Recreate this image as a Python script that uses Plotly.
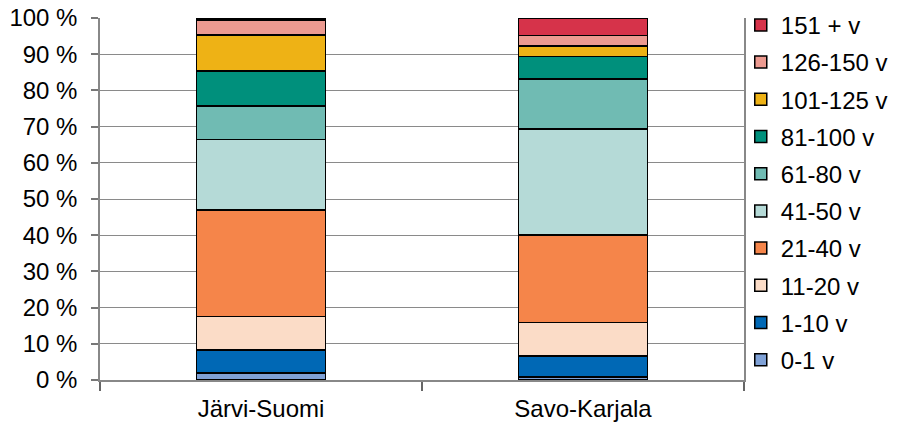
import plotly.graph_objects as go

categories = ["Järvi-Suomi", "Savo-Karjala"]
age_classes = ["0-1 v", "1-10 v", "11-20 v", "21-40 v", "41-50 v",
               "61-80 v", "81-100 v", "101-125 v", "126-150 v", "151 + v"]
jarvi_suomi = [2.0, 6.3, 9.3, 29.3, 19.6, 9.2, 9.7, 9.9, 4.2, 0.5]
savo_karjala = [0.8, 5.9, 9.2, 24.1, 29.4, 13.7, 6.2, 2.9, 2.9, 4.9]
colors = ["#7FA1D6", "#0068B5", "#FBDCC7", "#F5854A", "#B5DAD7",
          "#70BBB3", "#00907C", "#EEB215", "#EC9A90", "#D6334A"]
y_ticks = list(range(0, 101, 10))
y_tick_labels = [f"{v} %" for v in y_ticks]

FONT = "Liberation Sans, Arial, sans-serif"

fig = go.Figure()
n = len(age_classes)
for i, name in enumerate(age_classes):
    fig.add_trace(go.Bar(
        x=categories,
        y=[jarvi_suomi[i], savo_karjala[i]],
        name=name,
        legendgroup=name,
        legendrank=n - i,
        marker=dict(color=colors[i], line=dict(color="#000000", width=1.5)),
        width=0.4,
    ))

fig.update_layout(
    barmode="stack",
    width=908, height=438,
    margin=dict(l=100, r=164, t=18, b=58, autoexpand=False),
    paper_bgcolor="white",
    plot_bgcolor="white",
    font=dict(family=FONT, size=24, color="#000000"),
    showlegend=True,
    legend=dict(
        traceorder="grouped",
        x=0.995, xanchor="left", xref="paper",
        y=1.042, yanchor="top",
        font=dict(family=FONT, size=24, color="#000000"),
        tracegroupgap=3,
        itemwidth=30,
        maxheight=436,
        bgcolor="rgba(0,0,0,0)",
    ),
    xaxis=dict(
        type="category",
        automargin=False,
        showline=True, linecolor="#888888", linewidth=1.5,
        ticks="outside", tickson="boundaries", ticklen=9,
        tickcolor="#666666", tickwidth=1.5,
        ticklabelstandoff=6,
        showgrid=False,
        tickfont=dict(family=FONT, size=24, color="#000000"),
    ),
    yaxis=dict(
        range=[0, 100],
        automargin=False,
        tickmode="array",
        tickvals=y_ticks,
        ticktext=y_tick_labels,
        showline=True, linecolor="#888888", linewidth=1.5, mirror=True,
        ticks="outside", ticklen=7, tickcolor="#777777", tickwidth=1.5,
        ticklabelstandoff=9,
        showgrid=True, gridcolor="#8a8a8a", gridwidth=1,
        tickfont=dict(family=FONT, size=24, color="#000000"),
        zeroline=False,
    ),
)

fig.write_html(
    "out.html",
    config={"displayModeBar": False},
    post_script="document.body.style.margin='0';document.body.style.overflow='hidden';",
)
